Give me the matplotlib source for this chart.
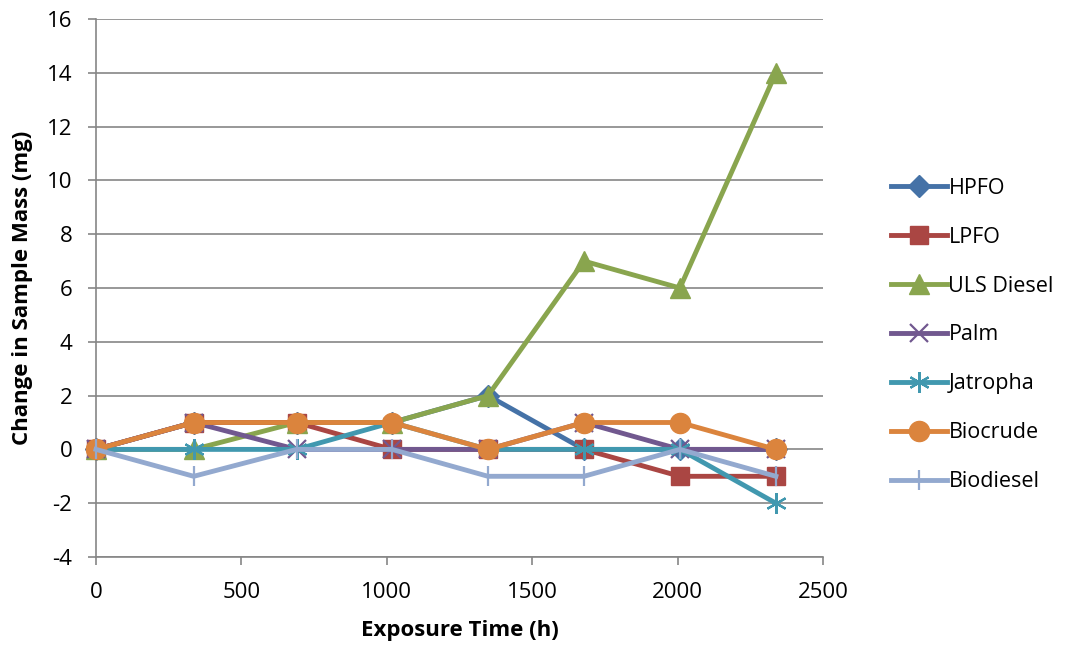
import matplotlib.pyplot as plt

plt.rcParams['font.family'] = ['Open Sans', 'DejaVu Sans']
plt.rcParams['axes.unicode_minus'] = False

# exposure time (h)
hours = [0, 336, 690, 1018, 1348, 1678, 2008, 2338]

# change in sample mass (mg)
hpfo = [0, 1, 1, 1, 2, 0, 0, 0]
lpfo = [0, 1, 1, 0, 0, 0, -1, -1]
uls_diesel = [0, 0, 1, 1, 2, 7, 6, 14]
palm = [0, 1, 0, 0, 0, 1, 0, 0]
jatropha = [0, 0, 0, 1, 0, 0, 0, -2]
biocrude = [0, 1, 1, 1, 0, 1, 1, 0]
biodiesel = [0, -1, 0, 0, -1, -1, 0, -1]

fig = plt.figure(figsize=(10.65, 6.48), dpi=100)
# plot area: x 96..823 px, y 19..557 px
ax = fig.add_axes([96 / 1065, 1 - 557 / 648, 727 / 1065, 538 / 648])

lw = 3.5
kw = dict(lw=lw, clip_on=False, zorder=3)
ax.plot(hours, hpfo, color='#4572A7', marker='D', ms=11, label='HPFO', **kw)
ax.plot(hours, lpfo, color='#AA4643', marker='s', ms=13.5, label='LPFO', **kw)
ax.plot(hours, uls_diesel, color='#89A54E', marker='^', ms=15, label='ULS Diesel', **kw)
ax.plot(hours, palm, color='#71588F', marker='x', ms=13, mew=1.6, label='Palm', **kw)
ax.plot(hours, jatropha, color='#4198AF', marker=(6, 2, 0), ms=15, mew=1.6, label='Jatropha', **kw)
ax.plot(hours, biocrude, color='#DB843D', marker='o', ms=14.5, label='Biocrude', **kw)
ax.plot(hours, biodiesel, color='#93A9CF', marker='|', ms=15, mew=1.6, label='Biodiesel', **kw)

ax.set_xlim(0, 2500)
ax.set_ylim(-4, 16)
ax.set_xticks(range(0, 2501, 500))
ax.set_yticks(range(-4, 17, 2))

ax.grid(axis='y', color='#868686', lw=1.2)
ax.set_axisbelow(True)
for s in ['top', 'right']:
    ax.spines[s].set_visible(False)
for s in ['left', 'bottom']:
    ax.spines[s].set_color('#868686')
    ax.spines[s].set_linewidth(1.2)
ax.tick_params(axis='both', direction='out', color='#868686', width=1.2,
               labelsize=16, length=6)
ax.tick_params(axis='y', pad=11)
ax.tick_params(axis='x', pad=12)

ax.set_xlabel('Exposure Time (h)', fontsize=16, fontweight='bold', labelpad=12)
ax.set_ylabel('Change in Sample Mass (mg)', fontsize=16, fontweight='bold', labelpad=10)

ax.legend(loc='center left', bbox_to_anchor=(872 / 1065, 1 - 335 / 648),
          bbox_transform=fig.transFigure, frameon=False,
          fontsize=15.5, labelspacing=1.3, handlelength=2.6, handletextpad=0.05)

plt.savefig('out.png')
